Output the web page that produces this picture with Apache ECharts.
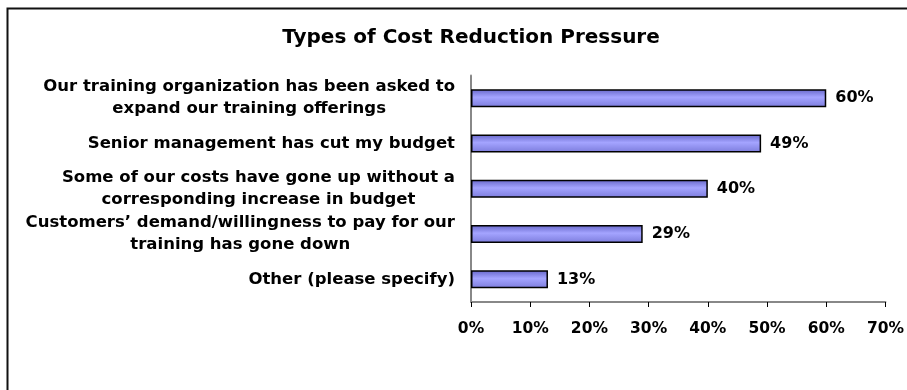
<!DOCTYPE html>
<html>
<head>
<meta charset="utf-8">
<script src="https://cdn.jsdelivr.net/npm/echarts@6/dist/echarts.min.js"></script>
<style>
  html, body { margin: 0; padding: 0; background: #fff; }
  #chart { width: 907px; height: 390px; }
</style>
</head>
<body>
<div id="chart"></div>
<script>
// Survey responses: share of respondents reporting each kind of pressure
const categories = [
  "Our training organization has been asked to\nexpand our training offerings",
  "Senior management has cut my budget",
  "Some of our costs have gone up without a\ncorresponding increase in budget",
  "Customers\u2019 demand/willingness to pay for our\ntraining has gone down",
  "Other (please specify)"
];
const values = [60, 49, 40, 29, 13];
const xTicks = { min: 0, max: 70, step: 10 };

const FONT = '"DejaVu Sans", sans-serif';

const chart = echarts.init(document.getElementById('chart'), null, { renderer: 'canvas' });

chart.setOption({
  backgroundColor: '#ffffff',
  animation: false,
  title: {
    text: 'Types of Cost Reduction Pressure',
    left: 466,
    top: 23,
    textAlign: 'center',
    textStyle: { fontFamily: FONT, fontWeight: 'bold', fontSize: 20, color: '#000' }
  },
  graphic: [{
    type: 'rect',
    shape: { x: 7.5, y: 8.5, width: 1000, height: 1000 },
    style: { fill: 'none', stroke: '#111', lineWidth: 2 },
    silent: true
  }],
  grid: { left: 471, right: 19, top: 75.5, bottom: 88, containLabel: false },
  xAxis: {
    type: 'value',
    min: xTicks.min,
    max: xTicks.max,
    interval: xTicks.step,
    axisLine: { show: true, lineStyle: { color: '#888', width: 2 } },
    axisTick: { show: true, length: 5, lineStyle: { color: '#000', width: 1 } },
    splitLine: { show: false },
    axisLabel: {
      formatter: '{value}%',
      margin: 19,
      fontFamily: FONT, fontWeight: 'bold', fontSize: 15.5, color: '#000'
    }
  },
  yAxis: {
    type: 'category',
    data: categories,
    inverse: true,
    axisLine: { show: true, lineStyle: { color: '#888', width: 2 } },
    axisTick: { show: false },
    axisLabel: {
      margin: 16,
      align: 'right',
      lineHeight: 22,
      fontFamily: FONT, fontWeight: 'bold', fontSize: 16.5, color: '#000',
      formatter: function (v) {
        return v.split('\n').map(function (s) { return '{c|' + s + '}'; }).join('\n');
      },
      rich: {
        c: { align: 'center', fontFamily: FONT, fontWeight: 'bold', fontSize: 16.5, lineHeight: 22, color: '#000' }
      }
    }
  },
  series: [{
    type: 'bar',
    data: values,
    barWidth: 18,
    itemStyle: {
      color: new echarts.graphic.LinearGradient(0, 0, 0, 1, [
        { offset: 0, color: '#6666c8' },
        { offset: 0.45, color: '#a4a4ff' },
        { offset: 1, color: '#7c7cdc' }
      ]),
      borderColor: '#000',
      borderWidth: 1.5
    },
    label: {
      show: true,
      position: 'right',
      distance: 9,
      formatter: '{c}%',
      fontFamily: FONT, fontWeight: 'bold', fontSize: 16, color: '#000'
    }
  }]
});
</script>
</body>
</html>
